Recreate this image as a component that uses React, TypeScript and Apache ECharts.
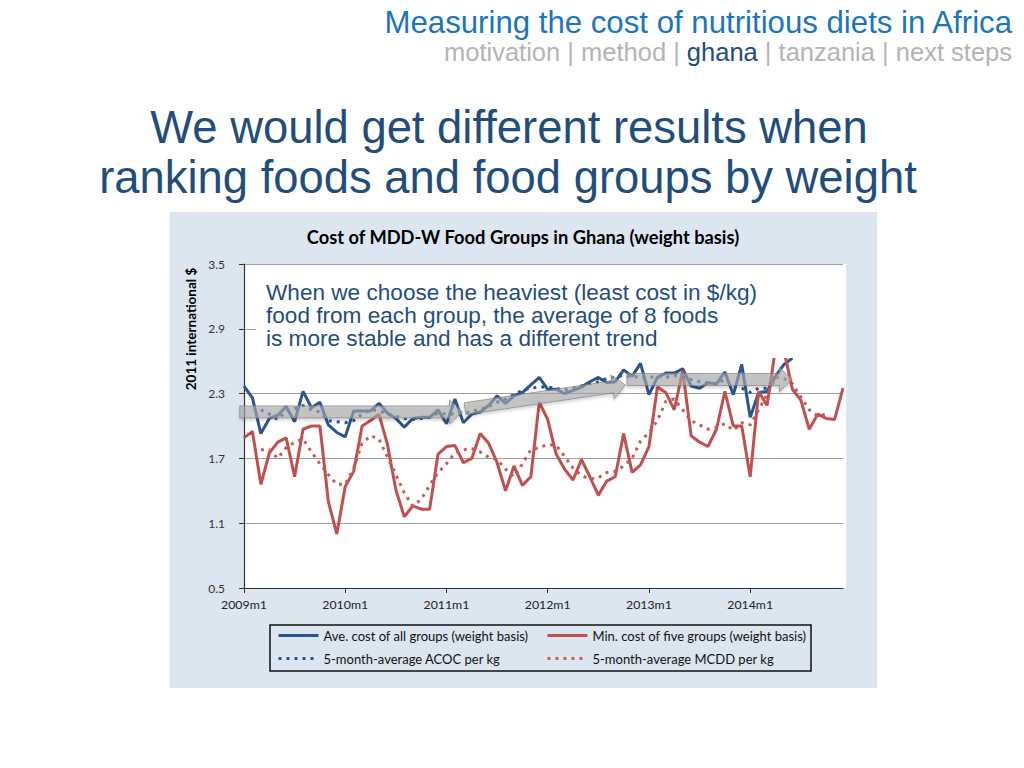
import React, { useEffect, useRef } from "react";
import * as echarts from "echarts";

// ---------- data ----------
const years = [2009, 2010, 2011, 2012, 2013, 2014];
const categories: string[] = years.flatMap((y) =>
  Array.from({ length: 12 }, (_, i) => `${y}m${i + 1}`)
);

const yTicks = [0.5, 1.1, 1.7, 2.3, 2.9, 3.5];

const seriesNames = [
  "Ave. cost of all groups (weight basis)",
  "Min. cost of five groups (weight basis)",
  "5-month-average ACOC per kg",
  "5-month-average MCDD per kg",
];

// Ave. cost of all groups (weight basis), 2009m1 .. 2014m6
const aveCost = [
  2.37, 2.26, 1.93, 2.07, 2.1, 2.18, 2.04, 2.32, 2.17, 2.22,
  2.01, 1.94, 1.9, 2.14, 2.14, 2.14, 2.21, 2.12, 2.07, 1.99,
  2.07, 2.08, 2.08, 2.15, 2.02, 2.25, 2.03, 2.11, 2.13, 2.19,
  2.28, 2.21, 2.28, 2.31, 2.38, 2.45, 2.34, 2.34, 2.3, 2.33,
  2.36, 2.41, 2.45, 2.4, 2.41, 2.52, 2.46, 2.58, 2.29, 2.45,
  2.49, 2.49, 2.53, 2.37, 2.35, 2.4, 2.39, 2.5, 2.29, 2.57,
  2.08, 2.31, 2.32, 2.46, 2.57, 2.63,
];

// Min. cost of five groups (weight basis), 2009m1 .. 2014m12
const minCost = [
  1.89, 1.95, 1.46, 1.75, 1.85, 1.89, 1.53, 1.97, 2.0, 2.0,
  1.3, 1.0, 1.44, 1.58, 2.0, 2.05, 2.11, 1.83, 1.41, 1.16,
  1.26, 1.23, 1.23, 1.74, 1.81, 1.82, 1.66, 1.7, 1.93, 1.84,
  1.66, 1.4, 1.63, 1.45, 1.53, 2.22, 2.06, 1.74, 1.6, 1.5,
  1.69, 1.53, 1.36, 1.49, 1.53, 1.93, 1.57, 1.64, 1.81, 2.36,
  2.31, 2.15, 2.51, 1.91, 1.85, 1.81, 1.97, 2.32, 2.0, 2.0,
  1.53, 2.32, 2.19, 2.72, 2.7, 2.34, 2.24, 1.97, 2.11, 2.07,
  2.06, 2.35,
];

// 5-month-average ACOC per kg
const aveCost5 = [
  null, null, 2.15, 2.11, 2.06, 2.14, 2.16, 2.19, 2.15, 2.13,
  2.05, 2.04, 2.03, 2.05, 2.11, 2.15, 2.14, 2.11, 2.09, 2.07,
  2.06, 2.07, 2.08, 2.12, 2.11, 2.11, 2.11, 2.14, 2.15, 2.18,
  2.22, 2.25, 2.29, 2.33, 2.35, 2.36, 2.36, 2.35, 2.33, 2.35,
  2.37, 2.39, 2.41, 2.44, 2.45, 2.47, 2.45, 2.46, 2.45, 2.46,
  2.45, 2.47, 2.45, 2.43, 2.41, 2.4, 2.39, 2.43, 2.37, 2.35,
  2.31, 2.35, 2.35, 2.46,
];

// 5-month-average MCDD per kg
const minCost5 = [
  null, null, 1.78, 1.78, 1.7, 1.8, 1.85, 1.88, 1.76, 1.65,
  1.55, 1.46, 1.46, 1.61, 1.84, 1.91, 1.88, 1.71, 1.55, 1.38,
  1.26, 1.32, 1.45, 1.57, 1.65, 1.75, 1.78, 1.79, 1.76, 1.71,
  1.69, 1.6, 1.53, 1.65, 1.78, 1.8, 1.83, 1.82, 1.72, 1.61,
  1.54, 1.51, 1.52, 1.57, 1.58, 1.63, 1.7, 1.86, 1.94, 2.05,
  2.23, 2.25, 2.15, 2.05, 2.01, 1.97, 1.99, 2.02, 1.96, 2.03,
  2.01, 2.15, 2.29, 2.45, 2.44, 2.39, 2.27, 2.15, 2.09, 2.11,
];

// trend arrows: [startMonthIndex, startValue, tipMonthIndex, tipValue]
const trendArrows: number[][] = [
  [-0.5, 2.13, 25.9, 2.13],
  [26.2, 2.16, 45.2, 2.38],
  [45.4, 2.43, 65.0, 2.43],
];

const noteLines = [
  "When we choose the heaviest (least cost in $/kg)",
  "food from each group, the average of 8 foods",
  "is more stable and has a different trend",
];

// ---------- styles ----------
const BLUE = "#2a5590";
const RED = "#c0504d";
const DARK = "#1f4e7d";
const CHART_FONT = "Lato, 'Open Sans', sans-serif";
const SLIDE_FONT = "'Liberation Sans', Arial, sans-serif";

export default function App() {
  const ref = useRef<HTMLDivElement>(null);

  useEffect(() => {
    const el = ref.current;
    if (!el) return;
    const chart = echarts.init(el, null, { renderer: "svg" });

    const base = yTicks[0];
    const interval = +(yTicks[1] - yTicks[0]).toFixed(3);
    const top = yTicks[yTicks.length - 1];
    const shift = (arr: (number | null)[]) =>
      arr.map((v) => (v == null ? null : +(v - base).toFixed(4)));

    const legendCommon = {
      orient: "vertical",
      top: 629,
      padding: 0,
      itemWidth: 40,
      itemHeight: 14,
      itemGap: 10,
      selectedMode: false,
      itemStyle: { opacity: 0 },
      lineStyle: { width: 3 },
      textStyle: { fontFamily: CHART_FONT, fontSize: 13, color: "#111" },
    };

    chart.setOption({
      animation: false,
      backgroundColor: "#ffffff",
      grid: { left: 244, right: 181, top: 264, bottom: 180 },
      legend: [
        { ...legendCommon, left: 277, data: [seriesNames[0], seriesNames[2]] },
        { ...legendCommon, left: 546, data: [seriesNames[1], seriesNames[3]] },
      ],
      xAxis: {
        type: "category",
        data: categories,
        boundaryGap: false,
        axisLine: { lineStyle: { color: "#333", width: 1.2 } },
        axisTick: { show: true, interval: 11, length: 5, lineStyle: { color: "#333" } },
        axisLabel: {
          interval: 11,
          color: "#222",
          fontFamily: CHART_FONT,
          fontSize: 12.3,
          margin: 10,
        },
        splitLine: { show: false },
      },
      yAxis: {
        type: "value",
        min: 0,
        max: +(top - base).toFixed(3),
        interval,
        axisLine: { show: true, lineStyle: { color: "#333", width: 1.2 } },
        axisTick: { show: true, length: 5, lineStyle: { color: "#333" } },
        axisLabel: {
          formatter: (v: number) => (v + base).toFixed(1),
          color: "#333",
          fontFamily: CHART_FONT,
          fontSize: 12,
          margin: 19,
        },
        splitLine: { show: true, lineStyle: { color: "#a0a0a0", width: 1.2 } },
      },
      series: [
        {
          name: seriesNames[0],
          type: "line",
          data: shift(aveCost),
          symbol: "none",
          lineStyle: { color: BLUE, width: 3 },
          itemStyle: { color: BLUE },
          z: 2,
        },
        {
          name: seriesNames[1],
          type: "line",
          data: shift(minCost),
          symbol: "none",
          lineStyle: { color: RED, width: 3 },
          itemStyle: { color: RED },
          z: 2,
        },
        {
          name: seriesNames[2],
          type: "line",
          data: shift(aveCost5),
          symbol: "none",
          lineStyle: { color: BLUE, width: 3, type: [3, 5] },
          itemStyle: { color: BLUE },
          z: 2,
        },
        {
          name: seriesNames[3],
          type: "line",
          data: shift(minCost5),
          symbol: "none",
          lineStyle: { color: "#c65b58", width: 3, type: [3, 5] },
          itemStyle: { color: "#c65b58" },
          z: 2,
        },
      ],
    });

    // pixel helpers through the chart's own scales
    const n = categories.length - 1;
    const toPx = (m: number, v: number) => {
      const p0 = chart.convertToPixel({ gridIndex: 0 }, [0, v - base]) as number[];
      const p1 = chart.convertToPixel({ gridIndex: 0 }, [n, v - base]) as number[];
      return [p0[0] + ((p1[0] - p0[0]) * m) / n, p0[1]];
    };
    const plotTL = toPx(0, top);
    const plotBR = toPx(n, base);

    const arrowEls = trendArrows.map((a, i) => {
      const S = toPx(a[0], a[1]);
      const T = toPx(a[2], a[3]);
      const dx = T[0] - S[0];
      const dy = T[1] - S[1];
      const len = Math.hypot(dx, dy);
      const ux = dx / len;
      const uy = dy / len;
      const nx = -uy;
      const ny = ux;
      const w = 6;
      const h = 12;
      const L = 13;
      const B = [T[0] - ux * L, T[1] - uy * L];
      const pts = [
        [S[0] + nx * w, S[1] + ny * w],
        [B[0] + nx * w, B[1] + ny * w],
        [B[0] + nx * h, B[1] + ny * h],
        [T[0], T[1]],
        [B[0] - nx * h, B[1] - ny * h],
        [B[0] - nx * w, B[1] - ny * w],
        [S[0] - nx * w, S[1] - ny * w],
      ];
      return {
        type: "polygon",
        id: "arrow" + i,
        z: 3,
        shape: { points: pts },
        style: {
          fill: "rgba(170,170,170,0.6)",
          stroke: "rgba(130,130,130,0.7)",
          lineWidth: 1,
          shadowBlur: 3,
          shadowOffsetY: 2,
          shadowColor: "rgba(0,0,0,0.25)",
        },
      };
    });

    chart.setOption({
      graphic: {
        elements: [
          // chart panel
          {
            type: "rect",
            id: "panel",
            z: -10,
            shape: { x: 170, y: 212, width: 707, height: 476 },
            style: { fill: "#dce6f1" },
          },
          // plot area
          {
            type: "rect",
            id: "plot",
            z: -9,
            shape: {
              x: plotTL[0],
              y: plotTL[1],
              width: plotBR[0] - plotTL[0] + 3,
              height: plotBR[1] - plotTL[1],
            },
            style: { fill: "#ffffff" },
          },
          // slide header
          {
            type: "text",
            id: "hdr",
            z: 10,
            x: 1012,
            y: 22,
            style: {
              text: "Measuring the cost of nutritious diets in Africa",
              font: `31.2px ${SLIDE_FONT}`,
              fill: "#1b75bb",
              textAlign: "right",
              align: "right",
              textVerticalAlign: "middle",
              verticalAlign: "middle",
            },
          },
          {
            type: "text",
            id: "nav",
            z: 10,
            x: 1012,
            y: 52,
            style: {
              text: "{g|motivation | method | }{b|ghana}{g| | tanzania | next steps}",
              textAlign: "right",
              align: "right",
              textVerticalAlign: "middle",
              verticalAlign: "middle",
              rich: {
                g: { fill: "#b4b4b4", fontSize: 25.5, fontFamily: SLIDE_FONT },
                b: { fill: DARK, fontSize: 25.5, fontFamily: SLIDE_FONT },
              },
            },
          },
          {
            type: "text",
            id: "h1",
            z: 10,
            x: 509,
            y: 127,
            style: {
              text: "We would get different results when",
              font: `45.4px ${SLIDE_FONT}`,
              fill: DARK,
              textAlign: "center",
              align: "center",
              textVerticalAlign: "middle",
              verticalAlign: "middle",
            },
          },
          {
            type: "text",
            id: "h2",
            z: 10,
            x: 508,
            y: 177,
            style: {
              text: "ranking foods and food groups by weight",
              font: `45.4px ${SLIDE_FONT}`,
              fill: DARK,
              textAlign: "center",
              align: "center",
              textVerticalAlign: "middle",
              verticalAlign: "middle",
            },
          },
          // chart title
          {
            type: "text",
            id: "ctitle",
            z: 10,
            x: 523,
            y: 237,
            style: {
              text: "Cost of MDD-W Food Groups in Ghana (weight basis)",
              font: `bold 18.3px ${CHART_FONT}`,
              fill: "#000",
              textAlign: "center",
              align: "center",
              textVerticalAlign: "middle",
              verticalAlign: "middle",
            },
          },
          // y axis title
          {
            type: "text",
            id: "ytitle",
            z: 10,
            x: 191,
            y: 329,
            rotation: Math.PI / 2,
            style: {
              text: "2011 international $",
              font: `bold 13.5px ${CHART_FONT}`,
              fill: "#000",
              textAlign: "center",
              align: "center",
              textVerticalAlign: "middle",
              verticalAlign: "middle",
            },
          },
          // note box (white, covers top of the plot)
          {
            type: "rect",
            id: "notebox",
            z: 5,
            shape: { x: 256, y: 267, width: plotBR[0] + 3 - 256, height: 91 },
            style: { fill: "#ffffff" },
          },
          ...noteLines.map((t, i) => ({
            type: "text",
            id: "note" + i,
            z: 6,
            x: 266,
            y: 292 + i * 23,
            style: {
              text: t,
              font: `22.6px ${SLIDE_FONT}`,
              fill: DARK,
              textAlign: "left",
              align: "left",
              textVerticalAlign: "middle",
              verticalAlign: "middle",
            },
          })),
          // legend frame
          {
            type: "rect",
            id: "legendbox",
            z: 4,
            shape: { x: 270, y: 625, width: 541, height: 46 },
            style: { fill: "none", stroke: "#111", lineWidth: 1.5 },
          },
          ...arrowEls,
        ],
      },
    });

    return () => chart.dispose();
  }, []);

  return (
    <div
      ref={ref}
      style={{ position: "fixed", left: 0, top: 0, width: 1024, height: 768 }}
    />
  );
}
